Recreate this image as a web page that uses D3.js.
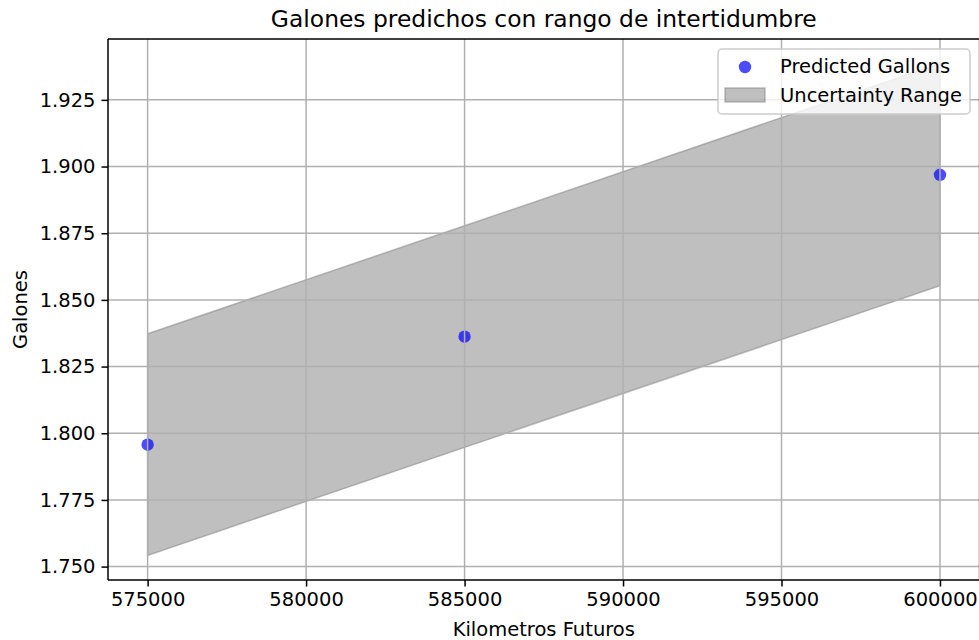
<!DOCTYPE html>
<html>
<head>
<meta charset="utf-8">
<script src="https://cdn.jsdelivr.net/npm/d3@7"></script>
<style>
  html, body { margin: 0; padding: 0; background: #fff; }
  svg { display: block; font-family: "DejaVu Sans", sans-serif; }
</style>
</head>
<body>
<svg id="chart" width="979" height="640"></svg>
<script>
// Future kilometres and predicted gallons with an uncertainty band
const kilometros = [575000, 585000, 600000];
const galonesPred = [1.7957, 1.8362, 1.8969];
const rangoInferior = [1.7542, 1.7947, 1.8553];
const rangoSuperior = [1.8373, 1.8778, 1.9386];
const xTicks = [575000, 580000, 585000, 590000, 595000, 600000];
const yTicks = [1.750, 1.775, 1.800, 1.825, 1.850, 1.875, 1.900, 1.925];

(function () {
const svg = d3.select("#chart");
const pl = 108, pt = 39, pr = 979.6, pb = 580;
const fs = "19.5px";

// axis limits with 5% padding around the data
const xMin = d3.min(kilometros), xMax = d3.max(kilometros);
const xPad = (xMax - xMin) * 0.05;
const yMin = d3.min(rangoInferior), yMax = d3.max(rangoSuperior);
const yPad = (yMax - yMin) * 0.05;

const x = d3.scaleLinear().domain([xMin - xPad, xMax + xPad]).range([pl, pr]);
const y = d3.scaleLinear().domain([yMin - yPad, yMax + yPad]).range([pb, pt]);

const rows = kilometros.map((k, i) => ({ k, p: galonesPred[i], lo: rangoInferior[i], hi: rangoSuperior[i] }));

const plot = svg.append("g");

// uncertainty band
const area = d3.area().x(d => x(d.k)).y0(d => y(d.lo)).y1(d => y(d.hi));
plot.append("path")
  .datum(rows)
  .attr("d", area)
  .attr("fill", "gray").attr("fill-opacity", 0.5)
  .attr("stroke", "gray").attr("stroke-opacity", 0.5).attr("stroke-width", 1.5)
  .attr("stroke-linejoin", "miter");

// predicted points
plot.selectAll("circle.pt")
  .data(rows)
  .join("circle")
  .attr("class", "pt")
  .attr("cx", d => x(d.k)).attr("cy", d => y(d.p))
  .attr("r", 6.2)
  .attr("fill", "blue").attr("fill-opacity", 0.7);

// grid lines
const grid = svg.append("g").attr("stroke", "#b0b0b0").attr("stroke-width", 1.5);
grid.selectAll("line.gx").data(xTicks).join("line").attr("class", "gx")
  .attr("x1", d => x(d)).attr("x2", d => x(d)).attr("y1", pt).attr("y2", pb);
grid.selectAll("line.gy").data(yTicks).join("line").attr("class", "gy")
  .attr("x1", pl).attr("x2", pr).attr("y1", d => y(d)).attr("y2", d => y(d));

// axes
const xAxis = d3.axisBottom(x).tickValues(xTicks).tickFormat(d3.format("d")).tickSizeInner(6.5).tickSizeOuter(0).tickPadding(6);
const yAxis = d3.axisLeft(y).tickValues(yTicks).tickFormat(d3.format(".3f")).tickSizeInner(6.5).tickSizeOuter(0).tickPadding(6);

const gx = svg.append("g").attr("transform", `translate(0,${pb})`).call(xAxis);
const gy = svg.append("g").attr("transform", `translate(${pl},0)`).call(yAxis);
[gx, gy].forEach(g => {
  g.select(".domain").remove();
  g.selectAll(".tick line").attr("stroke", "#000").attr("stroke-width", 1.5);
  g.selectAll(".tick text").attr("fill", "#000").style("font-size", fs).style("font-family", "DejaVu Sans");
});

// spines
svg.append("path")
  .attr("d", `M${pl},${pb}H${pr}M${pl},${pt}H${pr}M${pl},${pt}V${pb}M${pr},${pt}V${pb}`)
  .attr("stroke", "#000").attr("stroke-width", 1.5).attr("fill", "none");

// title and axis labels
svg.append("text").attr("x", (pl + pr) / 2).attr("y", 27)
  .attr("text-anchor", "middle").style("font-size", "23.4px")
  .text("Galones predichos con rango de intertidumbre");
svg.append("text").attr("x", (pl + pr) / 2).attr("y", 636)
  .attr("text-anchor", "middle").style("font-size", fs)
  .text("Kilometros Futuros");
svg.append("text").attr("transform", `translate(27,${(pt + pb) / 2}) rotate(-90)`)
  .attr("text-anchor", "middle").style("font-size", fs)
  .text("Galones");

// legend
const lg = svg.append("g");
lg.append("rect").attr("x", 718).attr("y", 49).attr("width", 252).attr("height", 65).attr("rx", 4)
  .attr("fill", "#fff").attr("fill-opacity", 0.8).attr("stroke", "#cccccc").attr("stroke-width", 1.5);
lg.append("circle").attr("cx", 745).attr("cy", 67).attr("r", 6.2).attr("fill", "blue").attr("fill-opacity", 0.7);
lg.append("rect").attr("x", 725).attr("y", 88).attr("width", 40).attr("height", 14)
  .attr("fill", "gray").attr("fill-opacity", 0.5).attr("stroke", "gray").attr("stroke-opacity", 0.5).attr("stroke-width", 1.5);
lg.append("text").attr("x", 780).attr("y", 73).style("font-size", fs).text("Predicted Gallons");
lg.append("text").attr("x", 780).attr("y", 102).style("font-size", fs).text("Uncertainty Range");
})();
</script>
</body>
</html>
